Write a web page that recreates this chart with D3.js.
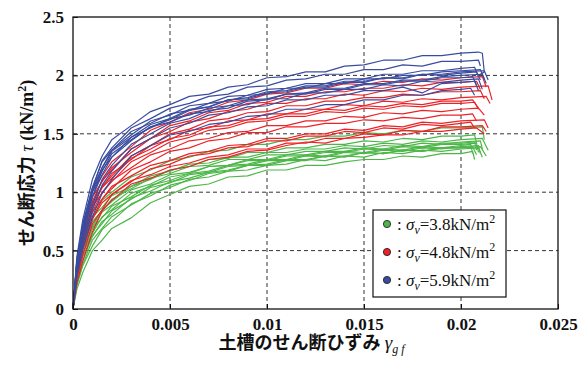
<!DOCTYPE html>
<html>
<head>
<meta charset="utf-8">
<script src="https://cdn.jsdelivr.net/npm/d3@7"></script>
<style>
  body { margin: 0; background: #fff; }
  #chart svg { display: block; }
  .tick text { font-family: "Liberation Serif", "Times New Roman", "DejaVu Serif", serif; font-weight: bold; font-size: 17px; fill: #111; }
</style>
</head>
<body>
<div id="chart"></div>
<script>
// shared strain grid for every test curve
const strain = [0, 0.0002, 0.0005, 0.001, 0.0015, 0.002, 0.003, 0.004, 0.005, 0.006, 0.007, 0.008,
  0.009, 0.010, 0.011, 0.012, 0.013, 0.014, 0.015, 0.016, 0.017, 0.018, 0.019, 0.020];

// sigma_v = 3.8 kN/m2
const green = [
  [0, .17, .31, .50, .59, .69, .78, .91, .98, 1.05, 1.07, 1.13, 1.14, 1.19, 1.19, 1.23, 1.23, 1.26, 1.28, 1.28, 1.31, 1.30, 1.33, 1.33],
  [0, .22, .38, .59, .69, .79, .89, .99, 1.04, 1.11, 1.13, 1.18, 1.19, 1.23, 1.24, 1.28, 1.27, 1.31, 1.30, 1.34, 1.33, 1.36, 1.35, 1.37],
  [0, .25, .45, .62, .75, .81, .95, 1.01, 1.09, 1.12, 1.17, 1.19, 1.23, 1.24, 1.28, 1.28, 1.31, 1.31, 1.34, 1.33, 1.36, 1.35, 1.38, 1.38],
  [0, .28, .47, .69, .78, .88, .96, 1.06, 1.10, 1.16, 1.18, 1.23, 1.24, 1.28, 1.28, 1.32, 1.31, 1.35, 1.34, 1.37, 1.36, 1.39, 1.38, 1.40],
  [0, .30, .51, .69, .83, .89, 1.02, 1.07, 1.15, 1.17, 1.22, 1.23, 1.27, 1.27, 1.31, 1.31, 1.34, 1.34, 1.37, 1.36, 1.39, 1.38, 1.41, 1.41],
  [0, .32, .52, .75, .84, .94, 1.03, 1.12, 1.16, 1.22, 1.23, 1.28, 1.28, 1.32, 1.32, 1.35, 1.35, 1.38, 1.37, 1.40, 1.39, 1.42, 1.41, 1.43],
  [0, .26, .47, .65, .79, .85, .99, 1.05, 1.13, 1.16, 1.22, 1.23, 1.28, 1.28, 1.32, 1.32, 1.35, 1.35, 1.38, 1.37, 1.40, 1.39, 1.42, 1.42],
  [0, .34, .55, .79, .87, .97, 1.05, 1.14, 1.18, 1.24, 1.25, 1.30, 1.30, 1.34, 1.34, 1.37, 1.37, 1.40, 1.39, 1.42, 1.41, 1.44, 1.43, 1.45],
  [0, .20, .37, .54, .68, .75, .90, .97, 1.06, 1.10, 1.16, 1.18, 1.23, 1.23, 1.27, 1.27, 1.31, 1.30, 1.34, 1.33, 1.36, 1.35, 1.38, 1.38],
  [0, .24, .41, .63, .73, .84, .94, 1.04, 1.08, 1.15, 1.17, 1.22, 1.23, 1.27, 1.27, 1.31, 1.30, 1.34, 1.33, 1.36, 1.35, 1.38, 1.37, 1.39],
  [0, .29, .51, .71, .85, .92, 1.05, 1.11, 1.19, 1.22, 1.28, 1.29, 1.34, 1.34, 1.38, 1.38, 1.41, 1.41, 1.44, 1.43, 1.46, 1.45, 1.48, 1.48],
  [0, .33, .57, .79, .93, 1.00, 1.13, 1.19, 1.27, 1.30, 1.35, 1.36, 1.41, 1.41, 1.45, 1.45, 1.48, 1.48, 1.51, 1.50, 1.53, 1.52, 1.55, 1.55]
];
const greenTail = [
  [[0.0206, 1.35], [0.0207, 1.28]], [[0.0209, 1.38], [0.0211, 1.30]], [[0.0210, 1.39], [0.0213, 1.31]],
  [[0.0205, 1.41], [0.0206, 1.33]], [[0.0208, 1.42], [0.0209, 1.34]], [[0.0210, 1.44], [0.0211, 1.37]],
  [[0.0207, 1.43], [0.0208, 1.36]], [[0.0211, 1.46], [0.0214, 1.36]], [[0.0206, 1.39], [0.0208, 1.32]],
  [[0.0209, 1.40], [0.0210, 1.33]], [[0.0207, 1.49], [0.0208, 1.42]], [[0.0211, 1.56], [0.0212, 1.45]]
];

// sigma_v = 4.8 kN/m2
const red = [
  [0, .22, .41, .66, .84, .93, 1.07, 1.12, 1.19, 1.22, 1.28, 1.30, 1.35, 1.36, 1.40, 1.43, 1.42, 1.46, 1.47, 1.49, 1.49, 1.52, 1.52, 1.54],
  [0, .30, .52, .77, .91, .98, 1.10, 1.15, 1.22, 1.25, 1.30, 1.32, 1.37, 1.37, 1.42, 1.42, 1.46, 1.46, 1.50, 1.49, 1.53, 1.52, 1.56, 1.56],
  [0, .26, .46, .73, .85, .98, 1.09, 1.20, 1.24, 1.31, 1.33, 1.38, 1.39, 1.44, 1.44, 1.48, 1.48, 1.52, 1.51, 1.55, 1.54, 1.58, 1.57, 1.59],
  [0, .33, .55, .83, .94, 1.05, 1.14, 1.23, 1.27, 1.33, 1.35, 1.40, 1.41, 1.46, 1.46, 1.50, 1.50, 1.54, 1.53, 1.57, 1.56, 1.60, 1.59, 1.61],
  [0, .28, .51, .77, .94, 1.03, 1.19, 1.26, 1.35, 1.38, 1.44, 1.46, 1.51, 1.51, 1.56, 1.56, 1.59, 1.59, 1.62, 1.61, 1.64, 1.63, 1.66, 1.66],
  [0, .35, .59, .88, .99, 1.10, 1.21, 1.32, 1.37, 1.44, 1.46, 1.51, 1.52, 1.57, 1.57, 1.61, 1.61, 1.65, 1.64, 1.68, 1.67, 1.70, 1.69, 1.71],
  [0, .30, .56, .83, 1.00, 1.09, 1.26, 1.34, 1.43, 1.47, 1.53, 1.55, 1.60, 1.61, 1.65, 1.65, 1.69, 1.68, 1.72, 1.71, 1.74, 1.73, 1.76, 1.76],
  [0, .38, .63, .92, 1.04, 1.16, 1.28, 1.40, 1.45, 1.53, 1.55, 1.61, 1.62, 1.67, 1.67, 1.71, 1.71, 1.75, 1.74, 1.78, 1.77, 1.80, 1.79, 1.81],
  [0, .34, .61, .88, 1.05, 1.14, 1.31, 1.40, 1.50, 1.54, 1.61, 1.63, 1.68, 1.69, 1.74, 1.74, 1.78, 1.78, 1.81, 1.81, 1.84, 1.83, 1.86, 1.86],
  [0, .40, .66, .96, 1.09, 1.21, 1.34, 1.46, 1.52, 1.60, 1.63, 1.69, 1.71, 1.76, 1.76, 1.80, 1.80, 1.84, 1.83, 1.87, 1.86, 1.89, 1.88, 1.90],
  [0, .36, .64, .92, 1.10, 1.19, 1.37, 1.46, 1.57, 1.61, 1.68, 1.70, 1.76, 1.77, 1.82, 1.82, 1.86, 1.86, 1.89, 1.89, 1.92, 1.91, 1.94, 1.94],
  [0, .42, .69, 1.01, 1.14, 1.26, 1.39, 1.53, 1.60, 1.68, 1.71, 1.77, 1.79, 1.84, 1.85, 1.89, 1.89, 1.93, 1.92, 1.95, 1.94, 1.97, 1.96, 1.98],
  [0, .32, .59, .87, 1.04, 1.12, 1.29, 1.37, 1.46, 1.49, 1.56, 1.57, 1.62, 1.63, 1.67, 1.67, 1.71, 1.70, 1.74, 1.73, 1.76, 1.75, 1.78, 1.78]
];
const redTail = [
  [[0.0208, 1.55], [0.0212, 1.50]], [[0.0211, 1.57], [0.0213, 1.52]], [[0.0205, 1.60], [0.0207, 1.55]],
  [[0.0212, 1.62], [0.0214, 1.55]], [[0.0206, 1.67], [0.0208, 1.61]], [[0.0209, 1.72], [0.0212, 1.66]],
  [[0.0207, 1.77], [0.0209, 1.71]], [[0.0213, 1.82], [0.0215, 1.76]], [[0.0210, 1.87], [0.0212, 1.80]],
  [[0.0214, 1.91], [0.0216, 1.79]], [[0.0208, 1.95], [0.0210, 1.88]], [[0.0211, 1.99], [0.0213, 1.90]],
  [[0.0206, 1.79], [0.0209, 1.72]]
];

// sigma_v = 5.9 kN/m2
const blue = [
  [0, .45, .76, 1.11, 1.31, 1.45, 1.57, 1.69, 1.75, 1.82, 1.84, 1.90, 1.92, 1.98, 1.99, 2.03, 2.03, 2.08, 2.09, 2.13, 2.13, 2.17, 2.17, 2.19],
  [0, .40, .71, 1.03, 1.27, 1.38, 1.55, 1.63, 1.72, 1.76, 1.82, 1.84, 1.90, 1.91, 1.96, 1.97, 2.01, 2.01, 2.05, 2.05, 2.09, 2.08, 2.12, 2.12],
  [0, .38, .67, 1.01, 1.21, 1.36, 1.49, 1.61, 1.66, 1.74, 1.76, 1.82, 1.83, 1.88, 1.89, 1.93, 1.93, 1.97, 1.97, 2.01, 2.01, 2.04, 2.04, 2.06],
  [0, .42, .73, 1.04, 1.26, 1.36, 1.52, 1.59, 1.67, 1.70, 1.76, 1.78, 1.83, 1.84, 1.89, 1.89, 1.93, 1.93, 1.97, 1.97, 2.00, 2.00, 2.03, 2.04],
  [0, .35, .61, .96, 1.15, 1.30, 1.44, 1.56, 1.62, 1.70, 1.73, 1.79, 1.80, 1.85, 1.86, 1.90, 1.90, 1.94, 1.94, 1.98, 1.97, 2.01, 2.00, 2.02],
  [0, .36, .65, .96, 1.19, 1.30, 1.47, 1.55, 1.63, 1.66, 1.72, 1.74, 1.79, 1.80, 1.84, 1.85, 1.89, 1.89, 1.93, 1.93, 1.96, 1.96, 1.99, 2.00],
  [0, .33, .59, .89, 1.11, 1.23, 1.41, 1.50, 1.59, 1.63, 1.70, 1.72, 1.78, 1.79, 1.84, 1.84, 1.88, 1.88, 1.92, 1.92, 1.95, 1.95, 1.98, 1.98],
  [0, .38, .65, 1.00, 1.18, 1.33, 1.45, 1.56, 1.60, 1.67, 1.69, 1.74, 1.75, 1.80, 1.80, 1.85, 1.85, 1.88, 1.88, 1.92, 1.91, 1.95, 1.94, 1.96],
  [0, .30, .55, .85, 1.06, 1.18, 1.37, 1.46, 1.55, 1.59, 1.66, 1.68, 1.73, 1.74, 1.79, 1.79, 1.83, 1.83, 1.87, 1.87, 1.90, 1.85, 1.93, 1.94],
  [0, .28, .51, .79, .99, 1.11, 1.31, 1.40, 1.49, 1.52, 1.58, 1.60, 1.65, 1.66, 1.71, 1.71, 1.75, 1.75, 1.79, 1.79, 1.83, 1.83, 1.87, 1.88],
  [0, .40, .68, 1.03, 1.21, 1.35, 1.47, 1.58, 1.63, 1.71, 1.73, 1.79, 1.81, 1.86, 1.87, 1.91, 1.91, 1.95, 1.95, 1.98, 1.98, 2.01, 2.01, 2.03]
];
const blueTail = [
  [[0.0209, 2.20], [0.0211, 2.19], [0.0212, 2.03], [0.0210, 2.01]], [[0.0209, 2.13], [0.0210, 2.08]],
  [[0.0207, 2.07], [0.0209, 1.99]], [[0.0210, 2.05], [0.0212, 1.97]], [[0.0208, 2.03], [0.0210, 1.96]],
  [[0.0211, 2.01], [0.0213, 1.93]], [[0.0206, 1.99], [0.0208, 1.92]], [[0.0209, 1.97], [0.0211, 1.88]],
  [[0.0207, 1.95], [0.0209, 1.87]], [[0.0205, 1.89], [0.0207, 1.83]], [[0.0212, 2.04], [0.0214, 1.96]]
];

const xTicks = [0, 0.005, 0.01, 0.015, 0.02, 0.025];
const yTicks = [0, 0.5, 1, 1.5, 2, 2.5];
const legendLabels = ["3.8", "4.8", "5.9"];

const serif = "'Liberation Serif', 'Times New Roman', 'DejaVu Serif', serif";

const groups = [
  { curves: green, tails: greenTail, color: "#4cb748" },
  { curves: red, tails: redTail, color: "#ec2227" },
  { curves: blue, tails: blueTail, color: "#3a4c9f" }
];

const width = 585, height = 367;
const margin = { top: 17, right: 27, bottom: 58, left: 73 };
const innerWidth = width - margin.left - margin.right;
const innerHeight = height - margin.top - margin.bottom;

const svg = d3.select("#chart").append("svg")
  .attr("width", width)
  .attr("height", height);

const g = svg.append("g")
  .attr("transform", `translate(${margin.left},${margin.top})`);

const x = d3.scaleLinear().domain([0, 0.025]).range([0, innerWidth]);
const y = d3.scaleLinear().domain([0, 2.5]).range([innerHeight, 0]);

// dashed grid
g.append("g").selectAll("line")
  .data(xTicks.slice(1, -1))
  .enter().append("line")
  .attr("x1", d => x(d)).attr("x2", d => x(d))
  .attr("y1", 0).attr("y2", innerHeight)
  .attr("stroke", "#333").attr("stroke-width", 1).attr("stroke-dasharray", "4,3");
g.append("g").selectAll("line")
  .data(yTicks.slice(1, -1))
  .enter().append("line")
  .attr("y1", d => y(d)).attr("y2", d => y(d))
  .attr("x1", 0).attr("x2", innerWidth)
  .attr("stroke", "#333").attr("stroke-width", 1).attr("stroke-dasharray", "4,3");

// curves
const line = d3.line().x(d => x(d[0])).y(d => y(d[1]));
groups.forEach(grp => {
  grp.curves.forEach((vals, i) => {
    const pts = strain.map((s, k) => [s, vals[k]]).concat(grp.tails[i]);
    g.append("path")
      .datum(pts)
      .attr("fill", "none")
      .attr("stroke", grp.color)
      .attr("stroke-width", 1.2)
      .attr("stroke-linejoin", "round")
      .attr("d", line);
  });
});

// axes
g.append("g")
  .attr("transform", `translate(0,${innerHeight})`)
  .call(d3.axisBottom(x).tickValues(xTicks).tickFormat(d3.format("")).tickSize(-5).tickPadding(9))
  .call(a => a.select(".domain").remove());
g.append("g")
  .call(d3.axisLeft(y).tickValues(yTicks).tickFormat(d3.format("")).tickSize(-5).tickPadding(9))
  .call(a => a.select(".domain").remove());
g.selectAll(".tick line").attr("stroke", "#111");
g.selectAll(".tick text").style("font-family", serif);

g.append("rect")
  .attr("width", innerWidth).attr("height", innerHeight)
  .attr("fill", "none").attr("stroke", "#111").attr("stroke-width", 1.3);

// axis titles
const yTitle = svg.append("text")
  .attr("transform", `translate(33,${margin.top + innerHeight / 2}) rotate(-90)`)
  .attr("text-anchor", "middle")
  .attr("fill", "#111");
yTitle.append("tspan").text("せん断応力")
  .style("font-family", "'Noto Sans CJK JP'").style("font-weight", "bold").style("font-size", "18px");
yTitle.append("tspan").text(" τ ")
  .style("font-family", serif).style("font-style", "italic").style("font-size", "18px");
yTitle.append("tspan").text("(kN/m")
  .style("font-family", serif).style("font-weight", "bold").style("font-size", "18px");
yTitle.append("tspan").text("2").attr("dy", -7)
  .style("font-family", serif).style("font-weight", "bold").style("font-size", "12px");
yTitle.append("tspan").text(")").attr("dy", 7)
  .style("font-family", serif).style("font-weight", "bold").style("font-size", "18px");

const xTitle = svg.append("text")
  .attr("x", margin.left + innerWidth / 2 - 4)
  .attr("y", 349)
  .attr("text-anchor", "middle")
  .attr("fill", "#111");
xTitle.append("tspan").text("土槽のせん断ひずみ ")
  .style("font-family", "'Noto Sans CJK JP'").style("font-weight", "bold").style("font-size", "18px");
xTitle.append("tspan").text("γ")
  .style("font-family", serif).style("font-style", "italic").style("font-size", "19px");
xTitle.append("tspan").text("g f").attr("dy", 4)
  .style("font-family", serif).style("font-style", "italic").style("font-size", "12px");

// legend
const legend = svg.append("g").attr("transform", "translate(373,210)");
legend.append("rect")
  .attr("width", 133).attr("height", 87)
  .attr("fill", "#fff").attr("stroke", "#111").attr("stroke-width", 1.2);
groups.forEach((grp, i) => {
  const row = legend.append("g").attr("transform", `translate(0,${14 + i * 28})`);
  row.append("circle")
    .attr("cx", 14).attr("cy", 0).attr("r", 3.6)
    .attr("fill", grp.color).attr("stroke", "#222").attr("stroke-width", 0.9);
  const t = row.append("text").attr("x", 24).attr("y", 6)
    .style("font-family", serif).style("font-size", "17px").attr("fill", "#111");
  t.append("tspan").text(": ");
  t.append("tspan").text("σ").style("font-style", "italic");
  t.append("tspan").text("v").attr("dy", 4).style("font-style", "italic").style("font-size", "12px");
  t.append("tspan").text(`=${legendLabels[i]}kN/m`).attr("dy", -4);
  t.append("tspan").text("2").attr("dy", -7).style("font-size", "12px");
});
</script>
</body>
</html>
